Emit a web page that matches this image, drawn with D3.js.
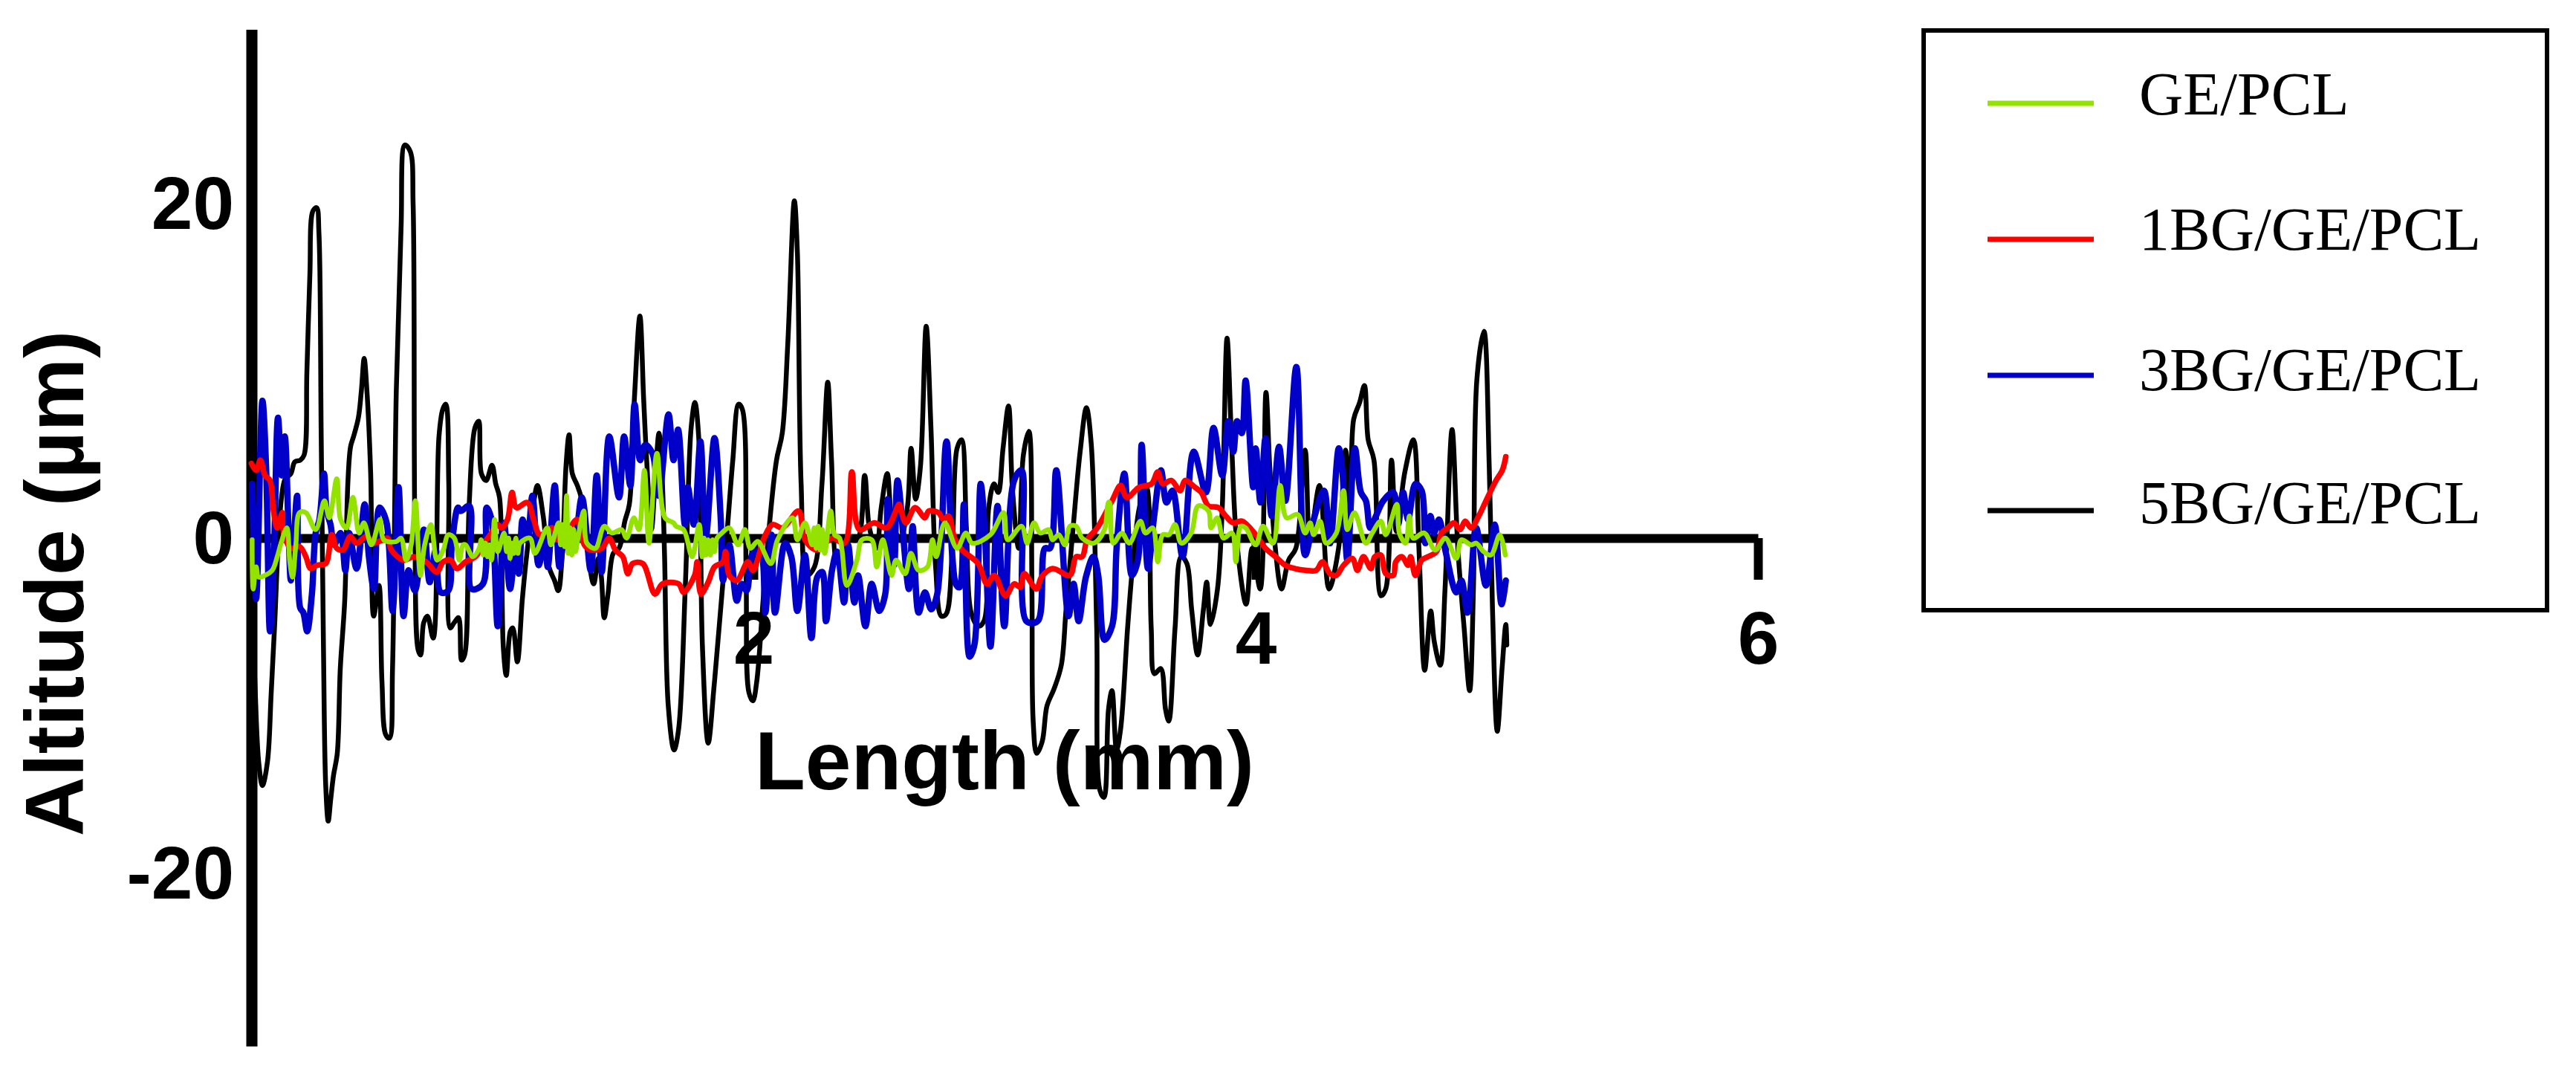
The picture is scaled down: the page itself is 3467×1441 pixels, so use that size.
<!DOCTYPE html>
<html><head><meta charset="utf-8">
<script src="https://cdnjs.cloudflare.com/ajax/libs/d3/7.8.5/d3.min.js"></script>
<style>html,body{margin:0;padding:0;background:#fff}svg{display:block}</style>
</head><body><svg id="c" width="3467" height="1441"></svg>
<script>
// Each point is [length in mm, altitude in µm]
const data5BG = [[0,-2.2],[0.015,-8.5],[0.03,-13.2],[0.045,-14.6],[0.065,-13.2],[0.08,-9.1],[0.094,-5],[0.106,-0.9],[0.121,2.4],[0.136,3.5],[0.158,3.8],[0.174,4.5],[0.196,4.6],[0.211,4.9],[0.222,9.8],[0.234,15.6],[0.246,19.3],[0.261,19.5],[0.27,18],[0.279,6],[0.288,-6.4],[0.297,-14.6],[0.307,-16.7],[0.317,-15.4],[0.328,-14],[0.343,-12.7],[0.355,-7.7],[0.373,-3.6],[0.385,3.2],[0.396,5.4],[0.408,6],[0.427,7.1],[0.439,8.7],[0.45,10.6],[0.461,8.7],[0.476,3.8],[0.488,-4.6],[0.509,-2.8],[0.521,-8.5],[0.536,-11.6],[0.551,-11.8],[0.563,-7.7],[0.578,8.7],[0.597,18.3],[0.612,23.2],[0.634,22.8],[0.645,19.7],[0.652,0.5],[0.665,-6.6],[0.675,-6.9],[0.687,-5],[0.702,-4.6],[0.725,-5.9],[0.748,6],[0.763,7.6],[0.775,7.9],[0.787,3.2],[0.793,-5.3],[0.808,-5],[0.826,-4.7],[0.838,-7.2],[0.85,-6.9],[0.868,1.9],[0.891,6.5],[0.906,6.9],[0.917,3.8],[0.936,3.4],[0.959,4.3],[0.974,3.2],[0.989,2.4],[1.004,-6.4],[1.016,-8.1],[1.032,-5.5],[1.042,-5.3],[1.06,-7.3],[1.08,-3.6],[1.098,-0.9],[1.118,1.3],[1.14,3.1],[1.163,1.3],[1.186,-1.7],[1.208,-2.5],[1.223,-3.1],[1.239,-0.9],[1.254,4.3],[1.266,6.1],[1.279,3.8],[1.299,3.1],[1.314,2.4],[1.334,-0.1],[1.364,-2.7],[1.382,-1.2],[1.394,-2.2],[1.406,-4.7],[1.421,-3.3],[1.442,-0.9],[1.465,-0.6],[1.488,1],[1.506,2],[1.526,8.2],[1.548,13.1],[1.563,8.2],[1.575,4.6],[1.594,0.5],[1.609,3.5],[1.624,6.2],[1.636,3.8],[1.646,-0.9],[1.661,-9.9],[1.684,-12.5],[1.702,-11.3],[1.729,-2.8],[1.752,6.5],[1.767,8],[1.782,6],[1.797,-6.4],[1.82,-12.1],[1.843,-8.8],[1.865,-5],[1.896,0.5],[1.918,4.6],[1.941,7.9],[1.956,7.6],[1.971,-2.2],[1.982,-9.1],[1.998,-9.6],[2.013,-8.5],[2.039,-3.6],[2.062,0.5],[2.092,4.6],[2.115,6.2],[2.137,11.5],[2.163,19.9],[2.175,16.9],[2.19,3.2],[2.213,-2.2],[2.243,-1.7],[2.273,3.2],[2.296,9.2],[2.311,4.6],[2.333,-1.4],[2.358,-0.6],[2.377,-0.1],[2.414,-0.1],[2.443,3.7],[2.462,0.6],[2.49,-0.6],[2.509,1.8],[2.533,3.8],[2.552,1.1],[2.584,-0.1],[2.613,1.8],[2.628,5.3],[2.646,2.3],[2.665,4.2],[2.688,12.5],[2.707,6.5],[2.726,-1.8],[2.748,-4.6],[2.767,-4.5],[2.792,-0.6],[2.811,5.3],[2.829,5.8],[2.848,0.6],[2.867,-4.4],[2.896,-5.2],[2.918,-4.9],[2.937,1.8],[2.958,3.2],[2.975,2.7],[2.994,5.3],[3.016,7.8],[3.031,3],[3.056,-0.6],[3.075,4.9],[3.097,6.3],[3.109,-3],[3.114,-10.8],[3.128,-12.7],[3.15,-12],[3.169,-9.9],[3.197,-8.9],[3.226,-7.5],[3.245,-4.2],[3.273,0.6],[3.301,5.1],[3.326,7.7],[3.345,5.6],[3.367,-5.3],[3.38,-14.9],[3.396,-15.3],[3.414,-10.1],[3.428,-9],[3.446,-12.5],[3.462,-11.3],[3.49,-5.3],[3.509,-1.8],[3.537,1.8],[3.565,3],[3.584,-5.3],[3.597,-8],[3.622,-7.7],[3.641,-10.1],[3.654,-10.8],[3.679,-5.3],[3.703,-1.1],[3.726,-1.5],[3.745,-4.2],[3.769,-6.9],[3.792,-4.2],[3.805,-2.6],[3.82,-5.1],[3.848,-3],[3.867,1.8],[3.886,11.8],[3.905,5.3],[3.924,-0.1],[3.962,-3.9],[3.986,-0.6],[4.018,-3],[4.041,8.6],[4.056,4.2],[4.075,-0.1],[4.103,-3],[4.131,-1.3],[4.16,-0.6],[4.197,5.2],[4.216,-0.1],[4.254,3.1],[4.292,-3],[4.33,-0.6],[4.358,5.2],[4.377,1.8],[4.39,7],[4.414,8],[4.433,9],[4.448,5.8],[4.471,4.6],[4.499,-3.4],[4.518,-3],[4.541,4.6],[4.56,0.4],[4.594,3.9],[4.628,5.8],[4.65,-0.6],[4.673,-7.8],[4.697,-4.3],[4.711,-6.1],[4.735,-7.5],[4.754,-3],[4.782,6.4],[4.805,-0.6],[4.83,-5.3],[4.852,-9],[4.867,-3],[4.881,9.4],[4.909,12.2],[4.93,4.2],[4.943,-4.2],[4.962,-11.4],[4.981,-7.7],[4.996,-5.1],[5,-6.3]];

const data3BG = [[0.004,3.2],[0.02,-3.6],[0.045,8.1],[0.06,4],[0.075,-5.5],[0.089,-1.9],[0.107,7.1],[0.122,3.7],[0.134,6],[0.149,0.5],[0.158,-2.5],[0.17,-0.1],[0.183,2.5],[0.195,-4.1],[0.208,-4.4],[0.223,-5.5],[0.242,-3.3],[0.257,0.3],[0.272,1.1],[0.29,3.8],[0.301,1.6],[0.316,0.8],[0.331,-0.4],[0.356,0.3],[0.375,-1.9],[0.39,0.3],[0.42,-1.8],[0.452,2],[0.469,-1.1],[0.489,-3],[0.511,1.8],[0.538,1],[0.563,-4.3],[0.587,3],[0.607,-4.6],[0.627,-1.9],[0.652,-3.1],[0.688,0.5],[0.711,-2.6],[0.735,-0.7],[0.755,-3.2],[0.785,-3.1],[0.799,-0.4],[0.824,1.8],[0.834,1.6],[0.869,1.9],[0.878,-3],[0.923,-2.7],[0.938,1.8],[0.957,1.1],[0.982,-5.2],[1.007,0.9],[1.031,-3],[1.051,-1.1],[1.066,-2.1],[1.081,1.1],[1.1,-0.1],[1.12,2.5],[1.145,-1.6],[1.169,-0.1],[1.181,-1.7],[1.209,3.1],[1.228,-1.7],[1.253,0.3],[1.283,-0.4],[1.317,2.4],[1.352,-1.9],[1.376,3.7],[1.396,-2],[1.426,6],[1.465,2.4],[1.485,6],[1.51,3.1],[1.527,7.9],[1.549,4.6],[1.569,5.5],[1.598,5],[1.623,2.5],[1.662,7.3],[1.682,4.6],[1.7,6.4],[1.727,0.8],[1.739,3],[1.763,0.8],[1.789,5.7],[1.81,0],[1.845,5.9],[1.87,1.1],[1.879,-2.5],[1.904,-0.4],[1.934,-3.7],[1.953,-2.7],[1.973,-3.1],[1.998,-0.9],[2.027,-0.8],[2.047,-4.4],[2.072,0.2],[2.086,-4.4],[2.126,-0.3],[2.151,-1.1],[2.175,-4.3],[2.205,-1],[2.231,-5.9],[2.254,-2.3],[2.274,-2],[2.289,-4.9],[2.313,-1.9],[2.333,-0.8],[2.361,-3.8],[2.377,-0.4],[2.402,-3.8],[2.417,-2.2],[2.446,-5.2],[2.471,-2.7],[2.501,-4.3],[2.525,-3.3],[2.535,2.3],[2.56,-1.6],[2.574,3.4],[2.619,-3],[2.634,0.7],[2.658,-4.4],[2.683,-3.2],[2.708,-4.2],[2.732,-3.3],[2.769,5.7],[2.806,-2.7],[2.821,-2.9],[2.838,2],[2.861,-7],[2.88,-6.3],[2.905,3.2],[2.92,0.8],[2.944,-6.4],[2.972,1.9],[2.999,-5.2],[3.038,3.4],[3.068,4],[3.087,-4.9],[3.132,-4.9],[3.161,-0.6],[3.181,-0.6],[3.206,4],[3.255,-4.6],[3.275,-2.7],[3.295,-4.9],[3.324,-2.3],[3.354,-1.1],[3.373,-2.2],[3.398,-6],[3.428,-5.2],[3.447,-0.4],[3.477,3.8],[3.507,-2.2],[3.531,-1.3],[3.546,5.5],[3.571,-1.8],[3.595,1.2],[3.623,4],[3.645,2.1],[3.669,2.8],[3.709,-1.1],[3.753,5.1],[3.802,2.7],[3.832,6.5],[3.867,3.7],[3.891,6.9],[3.911,5.1],[3.926,6.9],[3.945,6.2],[3.96,9.3],[3.99,3],[4,5.3],[4.019,2.1],[4.039,5.9],[4.064,1.3],[4.093,5.4],[4.118,2.2],[4.162,10.1],[4.197,-1],[4.231,1.1],[4.272,2.8],[4.296,-0.3],[4.331,5.3],[4.345,4],[4.365,-1.3],[4.395,5.3],[4.419,2.7],[4.439,2.2],[4.456,0.6],[4.479,1.3],[4.508,2.2],[4.548,2.7],[4.567,0.8],[4.587,2.7],[4.607,1.1],[4.636,3.2],[4.661,2.8],[4.676,-0.3],[4.696,1.3],[4.71,0.3],[4.73,1.1],[4.755,-0.7],[4.799,-3.2],[4.819,-2.5],[4.844,-4.4],[4.878,0.6],[4.917,-2.8],[4.952,0.8],[4.979,-3.9],[4.996,-2.5]];

const data1BG = [[0.001,4.4],[0.02,4],[0.037,4.6],[0.055,3.7],[0.075,3.4],[0.089,1.6],[0.104,0.6],[0.124,1.5],[0.127,0.5],[0.158,-0.6],[0.193,-0.5],[0.218,-1.1],[0.237,-1.8],[0.262,-1.6],[0.297,-1.5],[0.321,0.2],[0.341,-0.6],[0.366,-0.7],[0.395,0.1],[0.42,-0.3],[0.459,0.1],[0.489,-0.3],[0.509,-0.2],[0.543,0],[0.558,-0.7],[0.607,-1.3],[0.647,-1.1],[0.696,-1.4],[0.74,-2],[0.765,-1.4],[0.795,-1.3],[0.819,-1.8],[0.854,-1.4],[0.893,-1.1],[0.923,-0.4],[0.952,0.2],[0.982,0.8],[0.997,0.6],[1.021,1.1],[1.039,2.7],[1.056,1.8],[1.1,2.1],[1.125,1.1],[1.15,0.2],[1.199,0.6],[1.219,-0.1],[1.268,0.6],[1.298,1.1],[1.327,-0.4],[1.352,-0.7],[1.396,-0.6],[1.426,0],[1.45,-0.7],[1.48,-1.1],[1.5,-2.1],[1.519,-1.5],[1.559,-1.5],[1.608,-3.3],[1.638,-2.7],[1.702,-2.7],[1.722,-3.2],[1.766,-2.2],[1.776,-1.4],[1.791,-3.3],[1.82,-2.6],[1.845,-1.7],[1.879,-1.4],[1.889,-0.8],[1.904,-2.2],[1.934,-2.5],[1.978,-1.4],[1.998,-1.9],[2.022,-1],[2.042,0],[2.077,0.8],[2.116,0.6],[2.18,1.6],[2.205,-0.1],[2.254,-0.7],[2.313,0],[2.363,-0.3],[2.392,3.9],[2.422,0.5],[2.481,0.9],[2.53,0.6],[2.575,1.9],[2.58,2],[2.607,0.9],[2.644,1.8],[2.683,1.2],[2.698,1.6],[2.737,1.5],[2.757,1.1],[2.777,1.3],[2.801,0],[2.831,-0.7],[2.895,-1.5],[2.93,-2.7],[2.959,-2.2],[3.004,-3.4],[3.038,-2.7],[3.063,-2.9],[3.078,-2.1],[3.127,-3],[3.147,-2.3],[3.191,-1.8],[3.26,-2.2],[3.285,-1.1],[3.309,-1.1],[3.329,-0.1],[3.369,0.6],[3.428,2.2],[3.462,3.1],[3.487,2.4],[3.536,3],[3.585,3.2],[3.61,3.9],[3.63,3.2],[3.664,3.4],[3.699,2.8],[3.719,3.4],[3.758,3],[3.783,2.7],[3.812,1.9],[3.852,1.8],[3.881,1.3],[3.911,0.9],[3.945,1],[4,0.2],[4.039,-0.6],[4.079,-1.1],[4.118,-1.6],[4.157,-1.8],[4.197,-1.9],[4.241,-1.9],[4.266,-1.4],[4.296,-2.1],[4.321,-2.2],[4.35,-1.6],[4.385,-1.2],[4.405,-1.9],[4.429,-1.1],[4.459,-1.8],[4.474,-1.1],[4.498,-1],[4.518,-2.1],[4.548,-2.2],[4.558,-1.4],[4.582,-1.1],[4.607,-1.6],[4.617,-1.1],[4.636,-2.2],[4.661,-1.3],[4.686,-1.1],[4.72,-0.8],[4.74,0.3],[4.765,0.6],[4.789,0.9],[4.814,0.5],[4.834,1],[4.858,0.6],[4.888,1.3],[4.917,2.2],[4.957,3.4],[4.982,4],[4.996,4.8]];

const dataGE = [[0.004,-0.1],[0.008,-3],[0.02,-1.7],[0.03,-2.3],[0.055,-2.2],[0.084,-1.9],[0.104,-1.1],[0.119,-0.3],[0.142,0.6],[0.154,-1.4],[0.165,-2.3],[0.178,-0.4],[0.193,1.5],[0.218,1.5],[0.257,0.5],[0.292,2.2],[0.311,1.2],[0.341,3.5],[0.356,1.1],[0.38,0.6],[0.405,2.4],[0.43,0.3],[0.449,0.9],[0.479,-0.4],[0.513,1.1],[0.528,-0.1],[0.578,-0.2],[0.597,0],[0.617,-1.3],[0.637,-0.4],[0.654,2.2],[0.674,-2.2],[0.691,-0.4],[0.716,0.8],[0.74,-1.3],[0.765,-0.7],[0.785,0.2],[0.809,0],[0.829,-1.3],[0.844,-0.4],[0.854,-0.4],[0.883,-1.1],[0.908,-0.6],[0.916,-0.1],[0.924,-1],[0.933,-0.3],[0.941,-1.1],[0.949,-0.4],[0.957,-1.3],[0.962,-0.6],[0.969,1.1],[0.982,-0.8],[1.007,0.3],[1.017,-0.8],[1.025,0],[1.031,-1.2],[1.039,-0.3],[1.046,-0.9],[1.054,0],[1.062,-0.9],[1.071,-0.3],[1.11,0],[1.13,-0.9],[1.179,0.6],[1.194,-0.4],[1.224,0.9],[1.232,-0.4],[1.24,0.8],[1.248,-0.5],[1.256,2.5],[1.263,-0.9],[1.27,0.6],[1.277,-1],[1.284,0.5],[1.292,-0.8],[1.298,-0.3],[1.325,1.6],[1.337,-0.3],[1.371,-0.6],[1.406,0.7],[1.436,0.3],[1.475,0.5],[1.495,0],[1.524,1.2],[1.544,0.5],[1.566,4],[1.584,-0.3],[1.616,5],[1.648,1.2],[1.682,0.9],[1.692,0.7],[1.722,0.5],[1.756,-1.1],[1.784,0.8],[1.796,-1.1],[1.804,0],[1.812,-1],[1.82,-0.1],[1.829,-1],[1.837,-0.1],[1.845,-0.8],[1.855,0],[1.874,0.3],[1.904,0.6],[1.939,-0.4],[1.966,0.5],[1.988,-0.6],[2.017,-0.2],[2.069,-1.5],[2.096,-0.1],[2.155,1.2],[2.175,-0.1],[2.205,0.9],[2.234,-0.4],[2.242,0.6],[2.25,-0.6],[2.258,0.7],[2.266,-0.7],[2.274,0.5],[2.284,-0.9],[2.308,1.6],[2.323,0.2],[2.343,0],[2.372,-2.8],[2.412,-1.3],[2.432,-0.1],[2.471,-0.1],[2.491,-1.7],[2.515,-0.1],[2.55,-2.2],[2.568,-1.3],[2.604,-2.1],[2.627,-0.9],[2.658,-1.9],[2.693,-1.7],[2.713,-0.1],[2.728,-1.1],[2.762,0.9],[2.811,-0.6],[2.846,0.3],[2.871,-0.3],[2.944,0.2],[2.996,1.5],[3.013,-0.1],[3.068,0.7],[3.09,-0.3],[3.117,0.9],[3.142,0.3],[3.176,0.5],[3.191,-0.1],[3.216,0.2],[3.24,-0.4],[3.26,0.7],[3.285,0.7],[3.309,0],[3.354,-0.3],[3.398,0.5],[3.413,2.1],[3.418,2.1],[3.433,-0.3],[3.467,0.3],[3.497,-0.3],[3.541,1],[3.561,0.3],[3.59,0.6],[3.61,-1.4],[3.63,0.2],[3.655,0.2],[3.679,0.8],[3.704,-0.3],[3.743,0.3],[3.771,1.9],[3.812,1.6],[3.822,0.6],[3.847,1.2],[3.872,0],[3.906,0.3],[3.921,-1.4],[3.941,0.7],[3.96,0.6],[4,-0.4],[4.029,0.7],[4.069,-0.3],[4.098,3.1],[4.123,1.2],[4.167,1.4],[4.197,0.3],[4.217,0.9],[4.231,0.2],[4.256,1],[4.281,-0.3],[4.321,0.3],[4.35,2.8],[4.365,0.5],[4.393,1.5],[4.439,-0.3],[4.464,0.3],[4.498,1],[4.518,0.2],[4.562,2],[4.572,0.3],[4.597,-0.3],[4.612,1.3],[4.627,0],[4.671,0.3],[4.715,-0.7],[4.755,0],[4.799,-1.2],[4.819,-0.1],[4.858,-0.4],[4.878,-0.3],[4.908,-0.8],[4.937,-1],[4.972,0.2],[4.994,-1]];

const legendNames = ["GE/PCL","1BG/GE/PCL","3BG/GE/PCL","5BG/GE/PCL"];
const legendColors = ["#93E200","#FF0000","#0000C8","#000000"];
const xTicks = [2,4,6];
const yTicks = [-20,0,20];
const xTitle = "Length (mm)";
const yTitle = "Altitude (µm)";

const svg = d3.select("#c");
const x = d3.scaleLinear().domain([0,6]).range([338,2366]);
const y = d3.scaleLinear().domain([-30,30]).range([1408,40]);
const yLabels = d3.scaleLinear().domain([-20,20]).range([1176,275]);
const sans = "'Liberation Sans',Arial,sans-serif";

// x axis
const gx = svg.append("g").attr("transform",`translate(0,${y(0)})`)
  .call(d3.axisBottom(x).tickValues(xTicks).tickFormat(d3.format("d")).tickSize(56).tickSizeOuter(0));
gx.select(".domain").attr("stroke","#000").attr("stroke-width",12);
gx.selectAll(".tick line").attr("stroke","#000").attr("stroke-width",12);
gx.selectAll(".tick text").attr("y",169).attr("dy",0).attr("font-family",sans).attr("font-weight","bold").attr("font-size",100).attr("fill","#000");

// y axis
const gy = svg.append("g").attr("transform","translate(339,0)")
  .call(d3.axisLeft(yLabels).tickValues(yTicks).tickFormat(d=>d<0?"-"+Math.abs(d):String(d)).tickSize(0).tickPadding(24));
gy.select(".domain").remove();
gy.selectAll(".tick text").attr("dy","0.32em").attr("font-family",sans).attr("font-weight","bold").attr("font-size",100).attr("fill","#000");
svg.append("line").attr("x1",339).attr("x2",339).attr("y1",y(30)).attr("y2",y(-30)).attr("stroke","#000").attr("stroke-width",15);

// titles
svg.append("text").attr("x",1352).attr("y",1062).attr("text-anchor","middle").attr("font-family",sans).attr("font-weight","bold").attr("font-size",111).text(xTitle);
svg.append("text").attr("transform","translate(112,785) rotate(-90)").attr("text-anchor","middle").attr("font-family",sans).attr("font-weight","bold").attr("font-size",111).text(yTitle);

// lines
const line = d3.line().x(d=>x(d[0])).y(d=>y(d[1])).curve(d3.curveCatmullRom.alpha(0.5));
[[data5BG,3,6.5],[data3BG,2,8.5],[data1BG,1,7.5],[dataGE,0,6.5]].forEach(([d,c,w])=>{
  svg.append("path").datum(d).attr("d",line).attr("fill","none").attr("stroke",legendColors[c]).attr("stroke-width",w).attr("stroke-linejoin","round").attr("stroke-linecap","round");
});

// legend
svg.append("rect").attr("x",2589).attr("y",41).attr("width",839).attr("height",780).attr("fill","#fff").attr("stroke","#000").attr("stroke-width",6);
const rowLine = [139,322,505,687], rowText = [154,336,525,704];
legendNames.forEach((n,i)=>{
  svg.append("line").attr("x1",2675).attr("x2",2818).attr("y1",rowLine[i]).attr("y2",rowLine[i]).attr("stroke",legendColors[i]).attr("stroke-width",7);
  svg.append("text").attr("x",2879).attr("y",rowText[i]).attr("font-family","'Liberation Serif','Times New Roman',serif").attr("font-size",82).attr("fill","#000").text(n);
});
</script></body></html>
